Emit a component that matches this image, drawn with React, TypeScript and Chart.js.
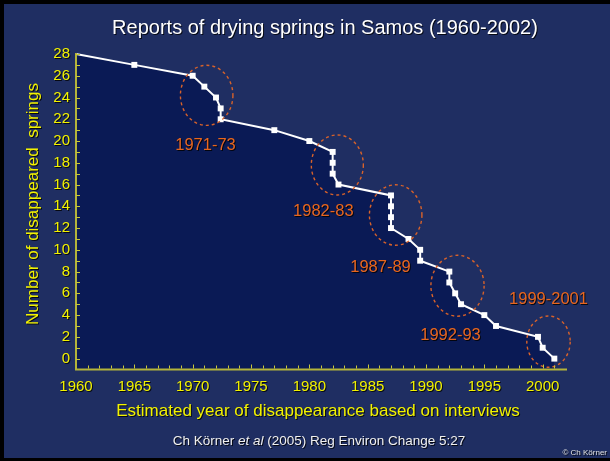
import React, { useEffect, useRef } from 'react';
import { Chart, registerables } from 'chart.js';

Chart.register(...registerables);

// ---- data ----
const years = [1960, 1965, 1970, 1971, 1972, 1972.4, 1972.4, 1977, 1980, 1982, 1982, 1982, 1982.5, 1987, 1987, 1987, 1987, 1988.5, 1989.5, 1989.5, 1992, 1992, 1992.5, 1993, 1995, 1996, 1999.6, 2000, 2001];
const springs = [28, 27, 26, 25, 24, 23, 22, 21, 20, 19, 18, 17, 16, 15, 14, 13, 12, 11, 10, 9, 8, 7, 6, 5, 4, 3, 2, 1, 0];

const xMin = 1960;
const xMax = 2002;
const yMin = -1;
const yMax = 28;

const titleText = 'Reports of drying springs in Samos (1960-2002)';
const xTitle = 'Estimated year of disappearance based on interviews';
const yTitle = 'Number of disappeared  springs';

// annotations (data coordinates)
const annoLabels = ['1971-73', '1982-83', '1987-89', '1992-93', '1999-2001'];
const annoLabelYear = [1971.1, 1981.2, 1986.1, 1992.1, 2000.5];
const annoLabelValue = [19.55, 13.5, 8.4, 2.1, 5.4];
const circleYear = [1971.2, 1982.4, 1987.4, 1992.7, 2000.5];
const circleValue = [24.2, 17.8, 13.2, 6.7, 1.56];
const circleRadYears = [2.25, 2.23, 2.25, 2.28, 1.86];
const circleRadValue = [2.76, 2.76, 2.78, 2.8, 2.36];

const FONT = "'Liberation Sans', Arial, Helvetica, sans-serif";
const SLIDE = '#1f2e62';
const FILL = '#0a1a55';
const YELLOW = '#f2f200';
const AXIS = '#b4b43a';
const ORANGE = '#e8661f';

const setShadow = (ctx: CanvasRenderingContext2D) => {
  ctx.shadowColor = 'rgba(0,0,0,0.8)';
  ctx.shadowOffsetX = 1;
  ctx.shadowOffsetY = 1;
  ctx.shadowBlur = 0;
};
const clearShadow = (ctx: CanvasRenderingContext2D) => {
  ctx.shadowColor = 'rgba(0,0,0,0)';
  ctx.shadowOffsetX = 0;
  ctx.shadowOffsetY = 0;
  ctx.shadowBlur = 0;
};

const deco = {
  id: 'deco',
  beforeDraw(chart: any) {
    const { ctx, width, height } = chart;
    ctx.save();
    ctx.fillStyle = '#000';
    ctx.fillRect(0, 0, width, height);
    ctx.fillStyle = SLIDE;
    ctx.fillRect(4, 4, width - 4, height - 7);
    ctx.restore();
    setShadow(ctx);
  },
  beforeDatasetsDraw(chart: any) {
    clearShadow(chart.ctx);
  },
  afterDatasetsDraw(chart: any) {
    const { ctx, scales } = chart;
    const xs = scales.x;
    const ys = scales.y;
    ctx.save();
    clearShadow(ctx);
    // ellipses
    ctx.strokeStyle = '#d8622a';
    ctx.lineWidth = 1.4;
    ctx.setLineDash([3, 3]);
    for (let i = 0; i < circleYear.length; i++) {
      const cx = xs.getPixelForValue(circleYear[i]);
      const cy = ys.getPixelForValue(circleValue[i]);
      const rx = Math.abs(xs.getPixelForValue(circleYear[i] + circleRadYears[i]) - cx);
      const ry = Math.abs(ys.getPixelForValue(circleValue[i] + circleRadValue[i]) - cy);
      ctx.beginPath();
      ctx.ellipse(cx, cy, rx, ry, 0, 0, Math.PI * 2);
      ctx.stroke();
    }
    ctx.setLineDash([]);
    // axes lines
    const left = xs.getPixelForValue(xMin);
    const right = xs.getPixelForValue(xMax);
    const bottom = ys.getPixelForValue(yMin);
    const top = ys.getPixelForValue(yMax);
    ctx.strokeStyle = AXIS;
    ctx.lineWidth = 2;
    ctx.beginPath();
    ctx.moveTo(left, top - 1);
    ctx.lineTo(left, bottom);
    ctx.lineTo(right + 1, bottom);
    ctx.stroke();
    // ticks
    ctx.lineWidth = 1;
    ctx.strokeStyle = '#c8c83a';
    ys.ticks.forEach((t: any) => {
      if (t.value < 0) return;
      const y = Math.round(ys.getPixelForValue(t.value)) + 0.5;
      ctx.beginPath();
      ctx.moveTo(left, y);
      ctx.lineTo(left + 4, y);
      ctx.stroke();
    });
    xs.ticks.forEach((t: any) => {
      if (t.value <= xMin || t.value >= xMax) return;
      const x = Math.round(xs.getPixelForValue(t.value)) + 0.5;
      const len = t.value % 5 === 0 ? 4 : 3;
      ctx.beginPath();
      ctx.moveTo(x, bottom - 1);
      ctx.lineTo(x, bottom - 1 - len);
      ctx.stroke();
    });
    ctx.restore();
  },
  afterDraw(chart: any) {
    const { ctx, scales } = chart;
    const xs = scales.x;
    const ys = scales.y;
    ctx.save();
    setShadow(ctx);
    ctx.textAlign = 'center';
    ctx.textBaseline = 'middle';
    // title
    ctx.fillStyle = '#ffffff';
    ctx.font = `20px ${FONT}`;
    ctx.fillText(titleText, 325, 28);
    // x title
    ctx.fillStyle = YELLOW;
    ctx.font = `17px ${FONT}`;
    ctx.fillText(xTitle, 318, 411);
    // y title
    ctx.save();
    ctx.translate(33, 204);
    ctx.rotate(-Math.PI / 2);
    ctx.fillText(yTitle, 0, 0);
    ctx.restore();
    // annotations
    ctx.fillStyle = ORANGE;
    ctx.font = `16.5px ${FONT}`;
    for (let i = 0; i < annoLabels.length; i++) {
      ctx.fillText(annoLabels[i], xs.getPixelForValue(annoLabelYear[i]), ys.getPixelForValue(annoLabelValue[i]));
    }
    // citation
    ctx.fillStyle = '#f0f0f0';
    const segs = [
      { t: 'Ch Körner ', f: `13.5px ${FONT}` },
      { t: 'et al', f: `italic 13.5px ${FONT}` },
      { t: ' (2005) Reg Environ Change 5:27', f: `13.5px ${FONT}` },
    ];
    let total = 0;
    segs.forEach((s) => { ctx.font = s.f; total += ctx.measureText(s.t).width; });
    let x = 319 - total / 2;
    ctx.textAlign = 'left';
    segs.forEach((s) => { ctx.font = s.f; ctx.fillText(s.t, x, 441); x += ctx.measureText(s.t).width; });
    // copyright
    ctx.textAlign = 'right';
    ctx.font = `8px ${FONT}`;
    ctx.fillStyle = '#e0e0e0';
    ctx.fillText('© Ch Körner', 607, 453);
    ctx.restore();
  },
};

export default function App() {
  const ref = useRef<HTMLCanvasElement>(null);
  useEffect(() => {
    document.body.style.margin = '0';
    document.body.style.background = '#000';
    const canvas = ref.current!;
    const points = years.map((y, i) => ({ x: y, y: springs[i] }));
    const chart = new Chart(canvas, {
      type: 'line',
      data: {
        datasets: [
          {
            data: points,
            borderColor: '#ffffff',
            borderWidth: 2,
            backgroundColor: FILL,
            fill: 'start',
            tension: 0,
            pointStyle: 'rect',
            pointRadius: (c: any) => (c.dataIndex === 0 ? 0 : 4.2),
            pointBackgroundColor: '#ffffff',
            pointBorderColor: '#ffffff',
            pointBorderWidth: 0,
            clip: false as any,
          },
        ],
      },
      options: {
        animation: false,
        responsive: false,
        devicePixelRatio: 1,
        events: [],
        layout: { padding: { top: 54, right: 44, left: 0, bottom: 0 } },
        plugins: { legend: { display: false }, title: { display: false }, tooltip: { enabled: false } },
        scales: {
          x: {
            type: 'linear',
            min: xMin,
            max: xMax,
            afterFit: (s: any) => { s.height = 91.5; },
            grid: { display: false, drawTicks: false },
            border: { display: false },
            ticks: {
              stepSize: 1,
              autoSkip: false,
              maxRotation: 0,
              padding: 8,
              color: YELLOW,
              font: { family: FONT, size: 15 },
              callback: (v: any) => (Number(v) % 5 === 0 && Number(v) <= 2000 ? String(v) : ''),
            },
          },
          y: {
            type: 'linear',
            min: yMin,
            max: yMax,
            afterFit: (s: any) => { s.width = 76; },
            grid: { display: false, drawTicks: false },
            border: { display: false },
            ticks: {
              stepSize: 1,
              autoSkip: false,
              padding: 6,
              color: YELLOW,
              font: { family: FONT, size: 15 },
              callback: (v: any) => (Number(v) >= 0 && Number(v) % 2 === 0 ? String(v) : ''),
            },
          },
        },
      },
      plugins: [deco],
    } as any);
    return () => chart.destroy();
  }, []);
  return (
    <div style={{ width: 610, height: 461 }}>
      <canvas ref={ref} width={610} height={461} style={{ display: 'block' }} />
    </div>
  );
}
